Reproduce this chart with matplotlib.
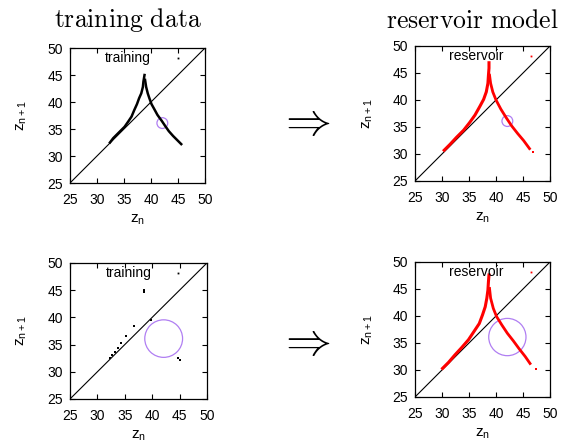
import numpy as np
import matplotlib.pyplot as plt
from matplotlib.patches import Circle

plt.rcParams['font.family'] = ['Liberation Sans', 'DejaVu Sans']
plt.rcParams['mathtext.fontset'] = 'custom'
plt.rcParams['mathtext.rm'] = 'Liberation Sans'
plt.rcParams['mathtext.it'] = 'Liberation Sans'
plt.rcParams['mathtext.bf'] = 'Liberation Sans:bold'

# --- values ---
ticks = [25, 30, 35, 40, 45, 50]

# top-left: training data (dense), two branches of the return map
train_left_x = [32.4, 33.0, 33.6, 34.3, 35.1, 35.8, 36.4, 36.9, 37.4, 37.8, 38.2, 38.5, 38.6, 38.8]
train_left_y = [32.5, 33.3, 33.9, 34.6, 35.4, 36.4, 37.3, 38.5, 39.6, 40.7, 41.6, 42.8, 43.8, 45.0]
train_right_x = [38.9, 39.1, 39.4, 39.7, 40.1, 40.6, 41.2, 42.0, 42.6, 43.3, 44.1, 44.9, 45.6]
train_right_y = [44.1, 42.8, 41.6, 40.7, 39.6, 38.7, 37.6, 36.5, 35.6, 34.6, 33.7, 32.9, 32.2]

# bottom-left: sparse training data
sparse_x = [32.3, 32.7, 33.2, 33.7, 34.4, 35.3, 36.7, 39.8, 38.6, 38.6, 44.8, 45.1]
sparse_y = [32.5, 33.0, 33.6, 34.3, 35.2, 36.6, 38.4, 39.6, 45.0, 44.6, 32.6, 32.2]

# top-right: reservoir model (dense)
res1_left_x = [30.4, 31.5, 32.7, 34.0, 35.1, 36.1, 37.0, 37.7, 38.2, 38.5, 38.6, 38.7, 38.7]
res1_left_y = [30.7, 31.8, 33.1, 34.4, 35.8, 37.2, 38.8, 40.1, 41.5, 43.1, 44.6, 45.9, 46.9]
res1_right_x = [38.8, 39.0, 39.4, 40.0, 40.9, 41.9, 42.9, 44.0, 45.1, 46.2]
res1_right_y = [44.6, 43.1, 41.5, 40.0, 38.3, 36.7, 35.2, 33.8, 32.5, 31.0]
res1_out_x = [46.9]
res1_out_y = [30.4]

# bottom-right: reservoir model (from sparse training)
res2_left_x = [30.1, 31.2, 32.4, 33.6, 34.9, 35.9, 36.9, 37.5, 38.0, 38.3, 38.5, 38.6, 38.7]
res2_left_y = [30.3, 31.4, 32.8, 34.1, 35.6, 37.1, 38.6, 40.2, 41.7, 43.3, 44.8, 46.4, 47.6]
res2_right_x = [38.8, 39.0, 39.5, 40.1, 41.1, 42.1, 43.2, 44.3, 45.4, 46.3]
res2_right_y = [45.1, 43.3, 41.4, 39.9, 38.3, 36.8, 35.4, 33.9, 32.5, 31.2]
res2_out_x = [47.4]
res2_out_y = [30.1]

# circles marking the region missing / sparse in training
circle_center = (42.1, 36.1)
circle_r_small = 1.0
circle_r_big = 3.45


def setup(ax, key, key_color, key_x, key_text_x):
    ax.set_xlim(25, 50)
    ax.set_ylim(25, 50)
    ax.set_xticks(ticks)
    ax.set_yticks(ticks)
    ax.tick_params(direction='in', length=3.5, width=0.8, top=True, right=True,
                   labelsize=10)
    ax.tick_params(axis='x', pad=7)
    ax.tick_params(axis='y', pad=5)
    for s in ax.spines.values():
        s.set_linewidth(0.9)
    ax.plot([25, 50], [25, 50], color='k', lw=0.8)
    ax.set_xlabel(r'$z_n$', fontsize=11, labelpad=4)
    ax.set_ylabel(r'$z_{n+1}$', fontsize=11)
    ax.yaxis.set_label_coords(-0.30, 0.5)
    ax.text(key_text_x, 48.2, key, ha='right', va='center', fontsize=10)
    ax.plot([key_x], [48.2], 's', color=key_color, ms=1.3, mew=0)


fig = plt.figure(figsize=(5.76, 4.47), dpi=100)
ax_tl = fig.add_axes([0.1215, 0.5906, 0.2344, 0.302])
ax_tr = fig.add_axes([0.7205, 0.5951, 0.2344, 0.302])
ax_bl = fig.add_axes([0.1215, 0.1074, 0.2378, 0.3043])
ax_br = fig.add_axes([0.7205, 0.1119, 0.2344, 0.302])

setup(ax_tl, 'training', 'k', 45.0, 40.0)
ax_tl.plot(train_left_x, train_left_y, color='k', lw=1.8)
ax_tl.plot(train_right_x, train_right_y, color='k', lw=1.8)
ax_tl.add_patch(Circle(circle_center, circle_r_small, fill=False, color='#b07ff2', lw=0.9))

setup(ax_bl, 'training', 'k', 44.7, 40.0)
ax_bl.plot(sparse_x, sparse_y, 's', color='k', ms=2, mew=0)
ax_bl.add_patch(Circle(circle_center, circle_r_big, fill=False, color='#b07ff2', lw=0.9))

setup(ax_tr, 'reservoir', 'r', 46.4, 41.3)
ax_tr.plot(res1_left_x, res1_left_y, color='r', lw=2.2)
ax_tr.plot(res1_right_x, res1_right_y, color='r', lw=2.0)
ax_tr.plot(res1_out_x, res1_out_y, 's', color='r', ms=1.5, mew=0)
ax_tr.add_patch(Circle(circle_center, circle_r_small, fill=False, color='#b07ff2', lw=0.9))

setup(ax_br, 'reservoir', 'r', 46.4, 41.3)
ax_br.plot(res2_left_x, res2_left_y, color='r', lw=2.2)
ax_br.plot(res2_right_x, res2_right_y, color='r', lw=2.0)
ax_br.plot(res2_out_x, res2_out_y, 's', color='r', ms=1.5, mew=0)
ax_br.add_patch(Circle(circle_center, circle_r_big, fill=False, color='#b07ff2', lw=0.9))

# column titles and arrows
fig.text(128 / 576, 1 - 20 / 447, r'$\mathrm{training\ data}$', math_fontfamily='cm',
         fontsize=18.5, ha='center', va='center')
fig.text(472 / 576, 1 - 21 / 447, r'$\mathrm{reservoir\ model}$', math_fontfamily='cm',
         fontsize=18.5, ha='center', va='center')
for yy in (123, 343):
    fig.text(304 / 576, 1 - yy / 447, r'$\Rightarrow$', math_fontfamily='cm',
             fontsize=33, ha='center', va='center')

fig.savefig('out.png', dpi=100)
